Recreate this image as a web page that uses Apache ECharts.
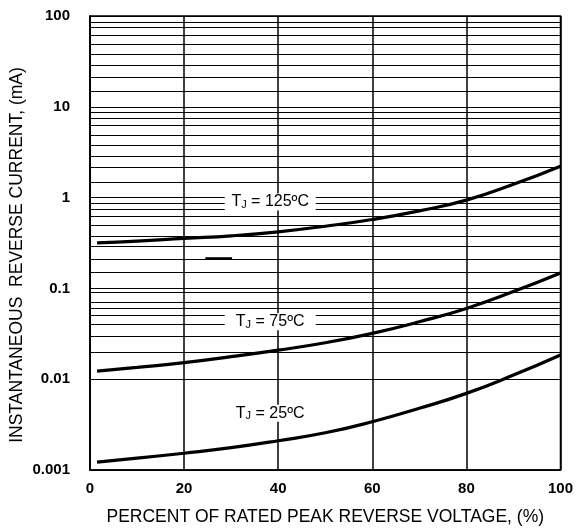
<!DOCTYPE html>
<html><head><meta charset="utf-8">
<script src="https://cdn.jsdelivr.net/npm/echarts@6/dist/echarts.min.js"></script>
<style>html,body{margin:0;padding:0;background:#fff}#c{width:576px;height:532px}</style>
</head><body><div id="c"></div>
<script>
const xValues = [1.5, 10, 20, 30, 40, 50, 60, 70, 80, 90, 100];
const tj125 = [0.318, 0.331, 0.355, 0.379, 0.420, 0.484, 0.574, 0.714, 0.938, 1.40, 2.22];
const tj75  = [0.0123, 0.0135, 0.0152, 0.0177, 0.0209, 0.0252, 0.0320, 0.0429, 0.0602, 0.0923, 0.148];
const tj25  = [0.00122, 0.00135, 0.00153, 0.00176, 0.00210, 0.00257, 0.00340, 0.00478, 0.00698, 0.0111, 0.0185];
const seriesTemps = ['125', '75', '25'];
const yTickLabels = ['0.001', '0.01', '0.1', '1', '10', '100'];
const xTickLabels = ['0', '20', '40', '60', '80', '100'];
const gridDecades = [0.001, 0.01, 0.1, 1, 10];
const gridMultipliers = [1.47, 2.14, 2.86, 3.81, 4.88, 6.21, 7.46, 8.63];
const labelAnchors = [[38.3, 0.897], [38.3, 0.0429], [38.3, 0.00421]];
const strayDash = [[24.5, 0.214], [30.2, 0.214]];

const chart = echarts.init(document.getElementById('c'), null, {renderer: 'canvas'});
const FONT = 'Liberation Sans, Arial, sans-serif';

function pairs(ys) { return xValues.map((x, i) => [x, ys[i]]); }

const minorLines = [];
gridDecades.forEach(d => gridMultipliers.forEach(m => minorLines.push({yAxis: d * m})));

const curves = [tj125, tj75, tj25].map((ys, i) => ({
  type: 'line', name: seriesTemps[i], data: pairs(ys), smooth: 0.5,
  showSymbol: false, symbol: 'none', z: 5,
  lineStyle: {color: '#000', width: 3.2}, animation: false, silent: true
}));

const labelSeries = {
  type: 'line', data: [], z: 10, silent: true, animation: false,
  markPoint: {
    symbol: 'rect', symbolSize: 0, silent: true, animation: false,
    data: labelAnchors.map((c, i) => ({
      coord: c,
      label: {
        show: true, position: 'inside',
        formatter: '{t|T}{s|J}{t| = ' + seriesTemps[i] + 'ºC}',
        backgroundColor: '#fff', width: 91, align: 'center', padding: [0, 0],
        rich: {
          t: {fontFamily: FONT, fontSize: 16, color: '#000', lineHeight: 17},
          s: {fontFamily: FONT, fontSize: 11, color: '#000', lineHeight: 12, verticalAlign: 'bottom'}
        }
      }
    }))
  }
};

const gridSeries = {
  type: 'line', data: [], z: 1, silent: true, animation: false,
  markLine: {
    silent: true, animation: false, symbol: ['none', 'none'],
    label: {show: false},
    lineStyle: {color: '#000', width: 1.2, type: 'solid'},
    emphasis: {disabled: true},
    data: minorLines.concat([[{coord: strayDash[0], lineStyle: {width: 2.6, color: '#000'}}, {coord: strayDash[1]}]])
  }
};

chart.setOption({
  animation: false,
  backgroundColor: '#fff',
  grid: {left: 90, right: 13, top: 16, bottom: 62, show: true, borderColor: '#000', borderWidth: 1.5, backgroundColor: 'transparent'},
  xAxis: {
    type: 'value', min: 0, max: 100, interval: 20,
    axisLine: {show: true, lineStyle: {color: '#000', width: 1.5}},
    axisTick: {show: false},
    splitLine: {show: true, lineStyle: {color: '#000', width: 1.5}},
    axisLabel: {
      margin: 11, color: '#000', fontFamily: FONT, fontSize: 15, fontWeight: 'bold',
      formatter: v => xTickLabels[Math.round(v / 20)]
    },
    name: 'PERCENT OF RATED PEAK REVERSE VOLTAGE, (%)',
    nameLocation: 'middle', nameGap: 38,
    nameTextStyle: {color: '#000', fontFamily: FONT, fontSize: 17.5}
  },
  yAxis: {
    type: 'log', logBase: 10, min: 0.001, max: 100,
    axisLine: {show: true, lineStyle: {color: '#000', width: 1.5}},
    axisTick: {show: false},
    splitLine: {show: true, lineStyle: {color: '#000', width: 1.2}},
    axisLabel: {
      margin: 20, color: '#000', fontFamily: FONT, fontSize: 15, fontWeight: 'bold',
      formatter: v => yTickLabels[Math.round(Math.log10(v)) + 3]
    }
  },
  graphic: [{
    type: 'text', x: 17, y: 255, rotation: Math.PI / 2,
    style: {text: 'INSTANTANEOUS  REVERSE CURRENT, (mA)', fontFamily: FONT, fontSize: 17.5, fill: '#000', align: 'center', verticalAlign: 'middle'}
  }],
  series: [gridSeries].concat(curves).concat([labelSeries])
});
</script>
</body></html>
